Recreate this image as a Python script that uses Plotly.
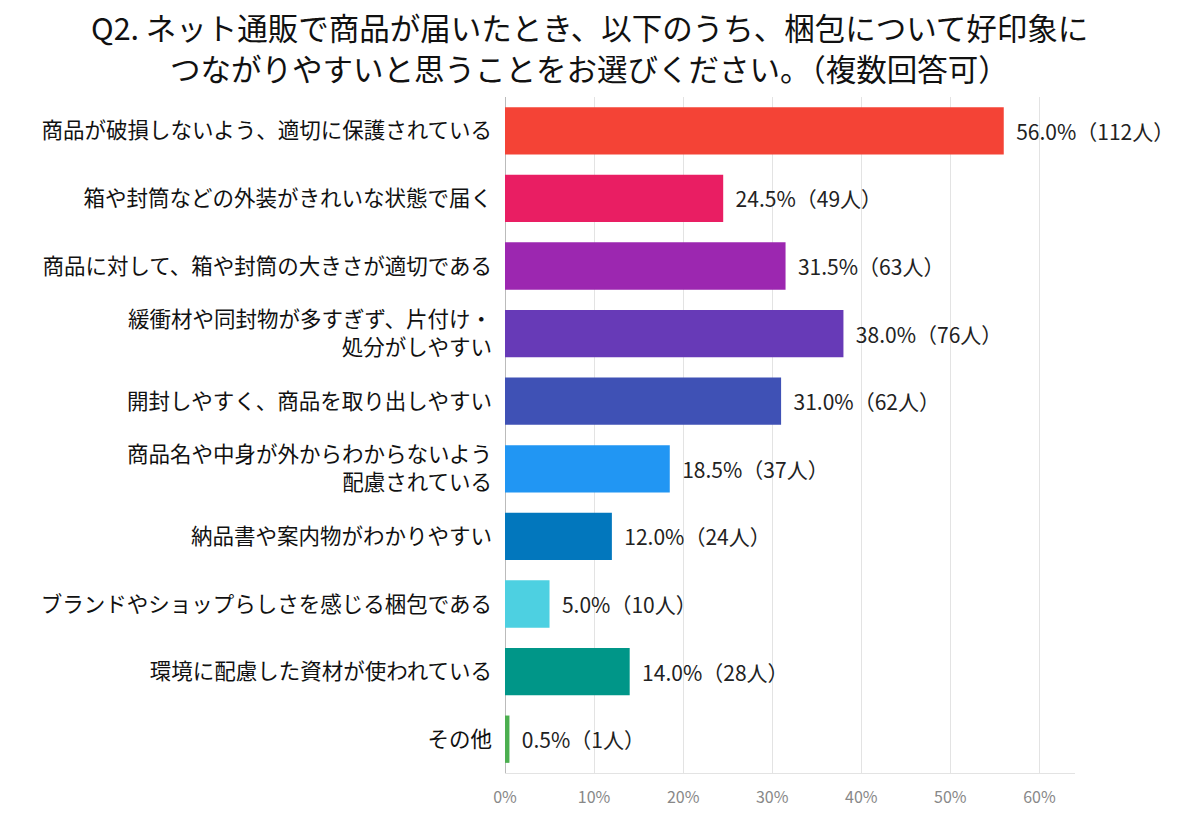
import plotly.graph_objects as go

categories = [
    "商品が破損しないよう、適切に保護されている",
    "箱や封筒などの外装がきれいな状態で届く",
    "商品に対して、箱や封筒の大きさが適切である",
    "緩衝材や同封物が多すぎず、片付け・<br>処分がしやすい",
    "開封しやすく、商品を取り出しやすい",
    "商品名や中身が外からわからないよう<br>配慮されている",
    "納品書や案内物がわかりやすい",
    "ブランドやショップらしさを感じる梱包である",
    "環境に配慮した資材が使われている",
    "その他",
]
percents = [56.0, 24.5, 31.5, 38.0, 31.0, 18.5, 12.0, 5.0, 14.0, 0.5]
counts = [112, 49, 63, 76, 62, 37, 24, 10, 28, 1]
colors = ["#F44336", "#E91E63", "#9C27B0", "#673AB7", "#3F51B5",
          "#2196F3", "#0277BD", "#4DD0E1", "#009688", "#4CAF50"]
tick_vals = [0, 10, 20, 30, 40, 50, 60]
tick_text = ["0%", "10%", "20%", "30%", "40%", "50%", "60%"]
title_lines = [
    "Q2. ネット通販で商品が届いたとき、以下のうち、梱包について好印象に",
    "つながりやすいと思うことをお選びください。（複数回答可）",
]

labels = [f"  {p:.1f}%（{c}人）" for p, c in zip(percents, counts)]

FONT = "Noto Sans CJK JP"

fig = go.Figure(go.Bar(
    x=percents,
    y=categories,
    orientation="h",
    marker=dict(color=colors, line=dict(width=0)),
    text=labels,
    textposition="outside",
    textfont=dict(family=FONT, size=21, color="#222222"),
    cliponaxis=False,
))

annots = []
for i, line in enumerate(title_lines):
    annots.append(dict(
        text=line, xref="paper", yref="paper",
        x=0.149, y=[1.103, 1.043][i], xanchor="center", yanchor="middle",
        showarrow=False,
        font=dict(family=FONT, size=30.5, color="#111111"),
    ))

fig.update_layout(
    width=1200, height=820,
    margin=dict(l=505, r=125, t=97, b=47),
    paper_bgcolor="white", plot_bgcolor="white",
    bargap=0.3,
    showlegend=False,
    annotations=annots,
    font=dict(family=FONT),
)

fig.update_xaxes(
    range=[0, 64],
    tickvals=tick_vals, ticktext=tick_text,
    tickfont=dict(family=FONT, size=16, color="#888888"),
    showgrid=True, gridcolor="#e3e3e3", gridwidth=1,
    zeroline=True, zerolinecolor="#bbbbbb", zerolinewidth=1,
    showline=True, linecolor="#e3e3e3", linewidth=1,
    ticks="", ticklabelstandoff=10,
)
fig.update_yaxes(
    categoryorder="array", categoryarray=categories, autorange="reversed",
    tickfont=dict(family=FONT, size=21.5, color="#111111"),
    showgrid=False, ticks="", ticklabelstandoff=12,
)

fig.write_html("out.html")
